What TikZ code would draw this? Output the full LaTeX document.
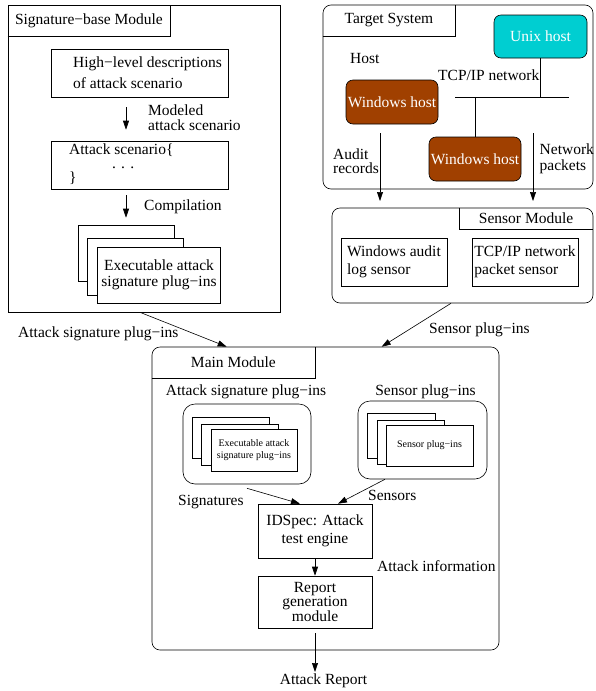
\documentclass[tikz,border=0pt]{standalone}
\usepackage{fontspec}
\setmainfont{Liberation Serif}
\usetikzlibrary{arrows.meta}
\definecolor{unixcyan}{RGB}{0,206,209}
\definecolor{winbrown}{RGB}{160,64,0}
\tikzset{
  box/.style={draw, line width=0.6pt},
  rbox/.style={box, rounded corners=8pt},
  stackbox/.style={box, fill=white},
  host/.style={box, rounded corners=7pt, text=white, minimum width=92pt, minimum height=44pt},
  flow/.style={-{Triangle[length=9pt,width=6pt]}, line width=0.6pt},
  wire/.style={line width=0.6pt},
  small/.style={font=\fontsize{10}{12}\selectfont}
}

\begin{document}
\begin{tikzpicture}[x=1pt, y=-1pt, inner sep=0pt, font=\fontsize{15.5}{17}\selectfont]
		\useasboundingbox (0,0) rectangle (595,691);
		
		%%%%% SIGNATURE-BASE MODULE %%%%%
		\node[box, minimum width=272pt, minimum height=307pt] (sigmod) at (144,158.5) {};
		\node[anchor=north west, minimum width=162pt, minimum height=31pt] (sigtab) at (sigmod.north west) {Signature−base Module};
		\draw[wire] (sigtab.south west) -- (sigtab.south east) -- (sigtab.north east);
		
		\node[box, minimum width=177pt, minimum height=48pt] (hld) at (139.5,73) {};
		\node[anchor=west, align=left, font=\fontsize{15.5}{21}\selectfont] (hldtxt) at (73,72.5) {High−level descriptions\\of attack scenario};
		\node[box, minimum width=177pt, minimum height=48pt] (scn) at (139.5,165) {};
		\node[anchor=west, align=left, font=\fontsize{15.5}{14}\selectfont] (scntxt) at (69,164.5) {Attack scenario\{\\\hspace*{43pt}. . .\\\}};
		\draw[flow] ([xshift=-13.5pt,yshift=-10pt]hld.south) -- ([xshift=-13.5pt,yshift=11pt]scn.north);
		\node[anchor=west, align=left, font=\fontsize{15.5}{15}\selectfont] (modlbl) at (148,117.5) {Modeled\\attack scenario};
		
		\node[stackbox, minimum width=96pt, minimum height=56pt] (exe1) at (126,253) {};
		\node[stackbox, minimum width=96pt, minimum height=57pt] (exe2) at (135,266.5) {};
		\node[stackbox, minimum width=123pt, minimum height=56pt, align=center, font=\fontsize{15.5}{16}\selectfont] (exe3) at (159,275) {Executable attack\\signature plug−ins};
		\draw[flow] ([xshift=-13.5pt,yshift=-6pt]scn.south) -- ([yshift=7pt]exe1.north);
		\node[anchor=west] (complbl) at (144,207) {Compilation};
		
		%%%%% TARGET SYSTEM %%%%%
		\node[rbox, minimum width=270pt, minimum height=184pt] (tsys) at (458,97) {};
		\node[anchor=north west, minimum width=132pt, minimum height=31pt] (tsystab) at (tsys.north west) {Target System};
		\draw[wire] (tsystab.south west) -- (tsystab.south east) -- (tsystab.north east);
		
		\node[host, fill=unixcyan, minimum width=93pt, minimum height=43pt] (unix) at (540.5,36.5) {Unix host};
		\node[anchor=west] (hostlbl) at (350,58) {Host};
		\node[anchor=west] (tcplbl) at (438,75) {TCP/IP network};
		\node[host, fill=winbrown] (win1) at (392,102) {Windows host};
		\node[host, fill=winbrown] (win2) at (475,159) {Windows host};
		
		\coordinate (netL) at (455,97);
		\coordinate (netR) at (569,97);
		\draw[wire] (netL) -- (netR);
		\draw[wire] (unix.south) -- (unix.south |- netL);
		\draw[wire] (win2.north |- netL) -- (win2.north);
		
		\coordinate (audtop) at (380,133);
		\coordinate (audbot) at (380,201);
		\coordinate (pkttop) at (533,133);
		\coordinate (pktbot) at (533,201);
		\draw[flow] (audtop) -- (audbot);
		\draw[flow] (pkttop) -- (pktbot);
		\node[anchor=west, align=left, font=\fontsize{15.5}{14}\selectfont] (audlbl) at (333,161) {Audit\\records};
		\node[anchor=west, align=left, font=\fontsize{15.5}{16}\selectfont] (pktlbl) at (539.5,158.5) {Network\\packets};
		
		%%%%% SENSOR MODULE %%%%%
		\node[rbox, minimum width=261pt, minimum height=95pt] (smod) at (462.5,255.5) {};
		\node[anchor=north east, minimum width=134pt, minimum height=21pt] (smodtab) at (smod.north east) {Sensor Module};
		\draw[wire] (smodtab.north west) -- (smodtab.south west) -- (smodtab.south east);
		\node[box, minimum width=106pt, minimum height=48pt, align=left, font=\fontsize{15.5}{18}\selectfont] (wsen) at (394,262) {Windows audit\\log sensor};
		\node[box, minimum width=106pt, minimum height=48pt, align=left, font=\fontsize{15.5}{18}\selectfont] (psen) at (525,262) {TCP/IP network\\packet sensor};
		
		%%%%% MAIN MODULE %%%%%
		\node[rbox, minimum width=347pt, minimum height=303pt] (mmod) at (325.5,498.5) {};
		\node[anchor=north west, minimum width=163pt, minimum height=31pt] (mmodtab) at (mmod.north west) {Main Module};
		\draw[wire] (mmodtab.south west) -- (mmodtab.south east) -- (mmodtab.north east);
		
		\draw[flow] ([xshift=-4pt]sigmod.south) -- ([xshift=75pt]mmod.north west);
		\draw[flow] ([xshift=-11.5pt]smod.south) -- ([xshift=230pt]mmod.north west);
		\node[anchor=west] (asplbl) at (18,334) {Attack signature plug−ins};
		\node[anchor=west] (splbl) at (429,330) {Sensor plug−ins};
		
		\node (aspin) at (246,392) {Attack signature plug−ins};
		\node (spin) at (425.5,392) {Sensor plug−ins};
		
		\node[rbox, rounded corners=12pt, minimum width=128pt, minimum height=80pt] (lcont) at (247,444) {};
		\node[stackbox, minimum width=77pt, minimum height=41pt] (ls1) at (230.5,437.5) {};
		\node[stackbox, minimum width=77pt, minimum height=41pt] (ls2) at (239.5,444.5) {};
		\node[stackbox, minimum width=86pt, minimum height=42pt, align=center, small] (ls3) at (254,450) {Executable attack\\signature plug−ins};
		
		\node[rbox, rounded corners=12pt, minimum width=129pt, minimum height=78pt] (rcont) at (422.5,440) {};
		\node[stackbox, minimum width=68pt, minimum height=45pt] (rs1) at (401,435.5) {};
		\node[stackbox, minimum width=67pt, minimum height=44pt] (rs2) at (410.5,442) {};
		\node[stackbox, minimum width=87pt, minimum height=41pt, small] (rs3) at (429.5,445.5) {Sensor plug−ins};
		
		\node[box, minimum width=114pt, minimum height=54pt, align=center, font=\fontsize{15.5}{18}\selectfont] (engine) at (315,531) {IDSpec: Attack\\test engine};
		\node[box, minimum width=114pt, minimum height=52pt, align=center, font=\fontsize{15.5}{13.5}\selectfont] (report) at (315,602) {Report\\generation\\module};
		
		\draw[flow] ([yshift=-4pt]lcont.south) -- ([xshift=-15pt]engine.north);
		\draw[flow] ([xshift=-37.5pt]rcont.south) -- ([xshift=23pt]engine.north);
		\node[anchor=west] (siglbl) at (178,502) {Signatures};
		\node[anchor=west] (senlbl) at (368,495) {Sensors};
		
		\draw[flow] (engine.south) -- (report.north);
		\node[anchor=west] (infolbl) at (377,566) {Attack information};
		
		\coordinate (rptend) at (315,672);
		\draw[flow] ([yshift=-5pt]report.south) -- (rptend);
		\node (attrep) at (323.5,681) {Attack Report};
		
	\end{tikzpicture}
\end{document}
